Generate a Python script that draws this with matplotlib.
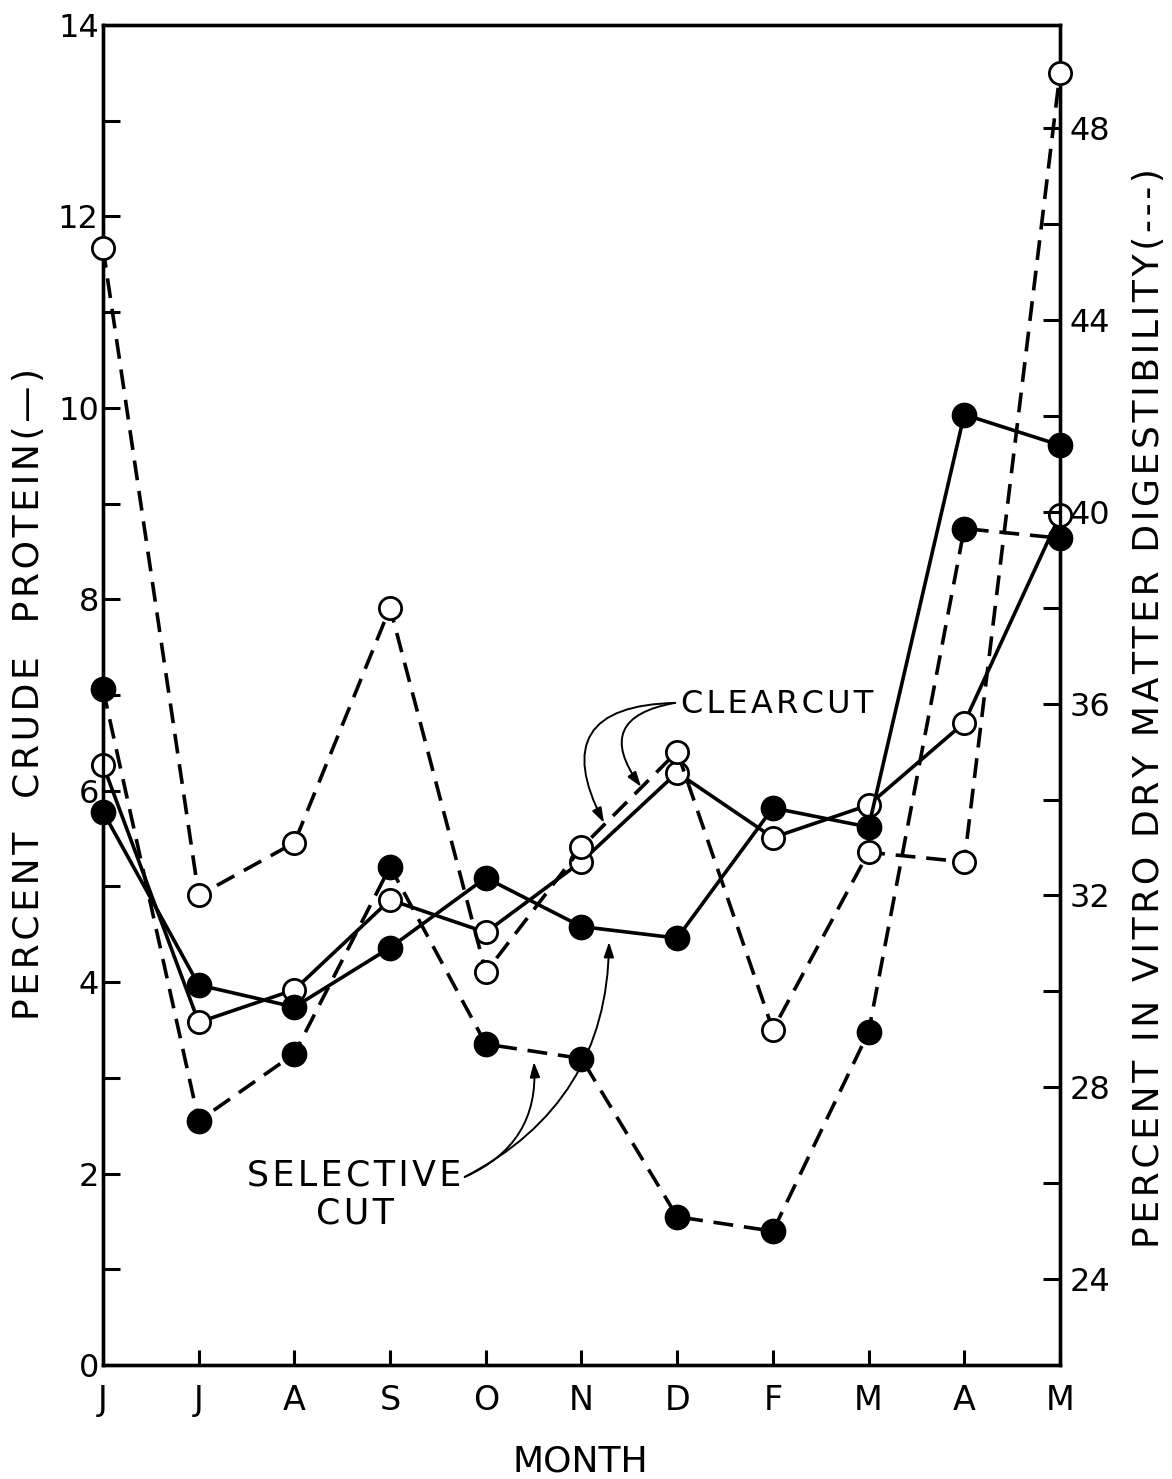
import matplotlib
matplotlib.use("Agg")
import matplotlib.pyplot as plt
from matplotlib.ticker import MultipleLocator, FixedLocator

MONTHS = ["J", "J", "A", "S", "O", "N", "D", "F", "M", "A", "M"]

# percent crude protein (left axis, solid lines)
CP_CLEARCUT = [6.27, 3.58, 3.92, 4.86, 4.52, 5.26, 6.19, 5.51, 5.85, 6.71, 8.88]
CP_SELECTIVE = [5.78, 3.97, 3.74, 4.36, 5.09, 4.58, 4.46, 5.82, 5.62, 9.93, 9.61]

# percent in vitro dry matter digestibility (right axis, dashed lines)
IVDMD_CLEARCUT = [45.5, 32.0, 33.1, 38.0, 30.4, 33.0, 35.0, 29.2, 32.9, 32.7, 49.15]
IVDMD_SELECTIVE = [36.3, 27.3, 28.7, 32.6, 28.9, 28.6, 25.3, 25.0, 29.15, 39.65, 39.45]

CP_TICKS = [0, 2, 4, 6, 8, 10, 12, 14]
IVDMD_TICKS = [24, 28, 32, 36, 40, 44, 48]

plt.rcParams["font.family"] = ["DejaVu Sans"]
INK = "black"
LW = 2.6
DASH = (0, (5.5, 3))


def spaced(s):
    # the hand lettering is set wider than any installed font
    return "\u200a".join(s)


fig = plt.figure(figsize=(11.72, 14.79), dpi=100)
ax = fig.add_axes([0.0879, 0.0771, 0.8165, 0.906])
ax2 = ax.twinx()

x = list(range(len(MONTHS)))


def series(axis, vals, filled, dashed):
    axis.plot(x, vals, color=INK, lw=LW, ls=DASH if dashed else "-",
              marker="o", ms=16.5 if filled else 16,
              mfc=INK if filled else "white", mec=INK, mew=2.0,
              clip_on=False, zorder=3)


series(ax, CP_CLEARCUT, filled=False, dashed=False)
series(ax, CP_SELECTIVE, filled=True, dashed=False)
series(ax2, IVDMD_CLEARCUT, filled=False, dashed=True)
series(ax2, IVDMD_SELECTIVE, filled=True, dashed=True)

ax.set_xlim(0, 10)
ax.set_ylim(0, 14)
ax2.set_ylim(22.21, 50.15)

ax.set_xticks(x)
ax.set_xticklabels(MONTHS)
ax.yaxis.set_major_locator(FixedLocator(CP_TICKS))
ax.yaxis.set_minor_locator(MultipleLocator(1))
ax2.yaxis.set_major_locator(FixedLocator(IVDMD_TICKS))
ax2.yaxis.set_minor_locator(FixedLocator([t + 2 for t in IVDMD_TICKS[:-1]]))

ax.tick_params(axis="x", direction="in", length=11, width=2.2, pad=14,
               labelsize=24, top=False)
ax.tick_params(axis="y", which="both", direction="in", length=12, width=2.2,
               pad=3, labelsize=23)
ax2.tick_params(axis="y", which="both", direction="in", length=12, width=2.2,
                pad=7, labelsize=23)
for a in (ax, ax2):
    for s in a.spines.values():
        s.set_linewidth(2.4)

# axis titles, placed like the hand lettering
fig.text(0.025, 0.531, spaced("PERCENT  CRUDE  PROTEIN(—)"), rotation=90,
         ha="center", va="center", fontsize=26)
fig.text(0.980, 0.521, spaced("PERCENT IN VITRO DRY MATTER DIGESTIBILITY(---)"),
         rotation=90, ha="center", va="center", fontsize=26)
fig.text(0.495, 0.012, "MONTH", ha="center", va="center", fontsize=26)


def px(xp, yp):
    # pixel position in the reference -> left-axis data coords
    return ((xp - 103) / 95.5, (1365 - yp) / 95.7)


arrow = dict(arrowstyle="-|>,head_length=0.9,head_width=0.3", color=INK,
             lw=1.4, shrinkA=0, shrinkB=0)

ax.text(*px(680, 705), spaced("CLEARCUT"), ha="left", va="center",
        fontsize=23)
ax.annotate("", xy=px(603, 823), xytext=px(674, 703),
            arrowprops=dict(arrow, connectionstyle="arc3,rad=0.8"))
ax.annotate("", xy=px(640, 787), xytext=px(674, 703),
            arrowprops=dict(arrow, connectionstyle="arc3,rad=0.8"))

ax.text(*px(354, 1195), spaced("SELECTIVE") + "\n" + spaced("CUT"),
        ha="center", va="center", fontsize=25, linespacing=1.15)
ax.annotate("", xy=px(533, 1062), xytext=px(464, 1177),
            arrowprops=dict(arrow, connectionstyle="arc3,rad=0.35"))
ax.annotate("", xy=px(608, 942), xytext=px(464, 1177),
            arrowprops=dict(arrow, connectionstyle="arc3,rad=0.3"))

fig.savefig("out.png", dpi=100)
